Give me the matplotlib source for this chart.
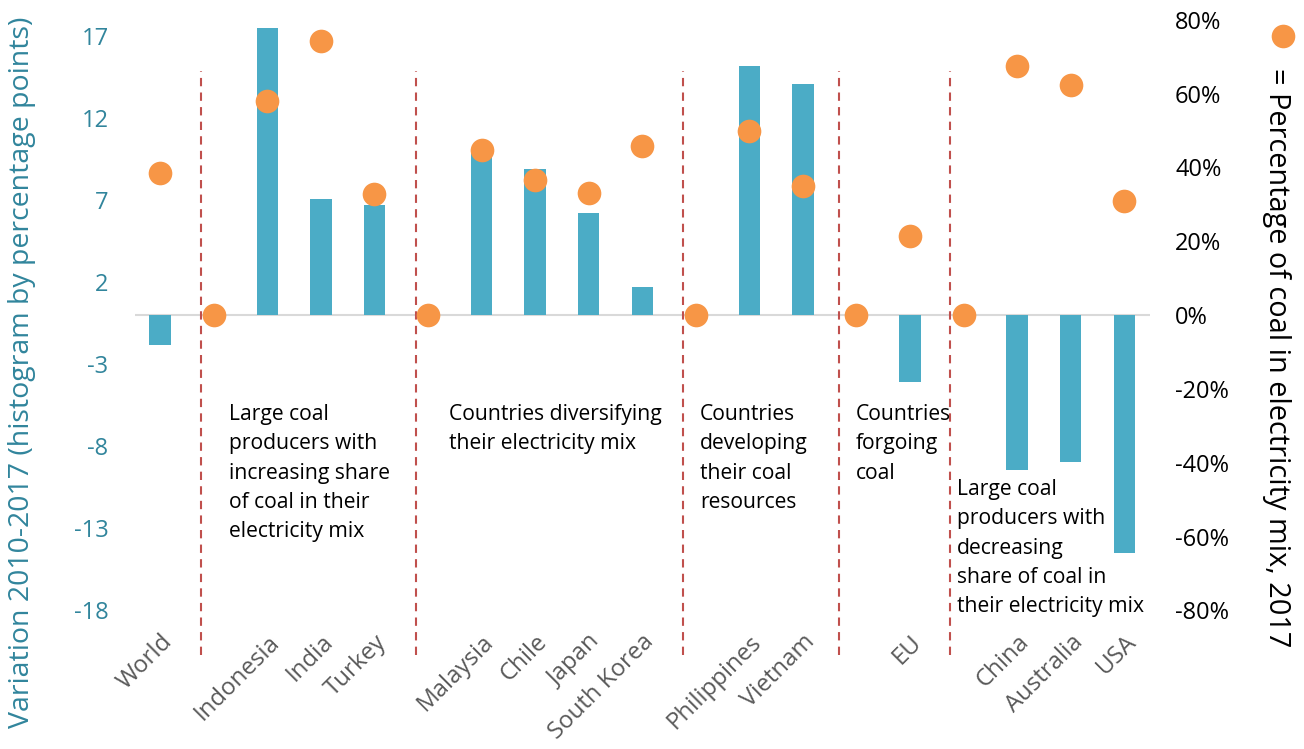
import numpy as np
import matplotlib.pyplot as plt
from matplotlib.ticker import FuncFormatter

plt.rcParams['font.family'] = ['Open Sans', 'DejaVu Sans']
plt.rcParams['axes.unicode_minus'] = False

# slots: empty strings are the gap slots at the start of each group
labels = ['World', '', 'Indonesia', 'India', 'Turkey', '', 'Malaysia', 'Chile', 'Japan',
          'South Korea', '', 'Philippines', 'Vietnam', '', 'EU', '', 'China', 'Australia', 'USA']
variation = [-1.8, 0, 17.5, 7.1, 6.7, 0, 10.0, 8.9, 6.2, 1.7, 0, 15.2, 14.1, 0, -4.1, 0,
             -9.45, -8.95, -14.5]
coal_share = [38.4, 0, 58.0, 74.3, 32.9, 0, 44.6, 36.7, 33.2, 45.7, 0, 49.8, 35.1, 0,
              21.5, 0, 67.5, 62.3, 31.0]
separators = [0.77, 4.77, 9.76, 12.67, 14.74]

group_notes = ['Large coal\nproducers with\nincreasing share\nof coal in their\nelectricity mix',
               'Countries diversifying\ntheir electricity mix',
               'Countries\ndeveloping\ntheir coal\nresources',
               'Countries\nforgoing\ncoal',
               'Large coal\nproducers with\ndecreasing\nshare of coal in\ntheir electricity mix']
note_pos = [(229, 404), (449, 404), (700, 404), (856, 404), (957, 479)]

left_ticks = [17, 12, 7, 2, -3, -8, -13, -18]
right_ticks = [80, 60, 40, 20, 0, -20, -40, -60, -80]

BAR = '#4BACC6'
DOT = '#F79646'
TEAL = '#31859C'
W, H = 1304, 749

fig = plt.figure(figsize=(W / 100, H / 100), dpi=100)
ax = fig.add_axes([135 / W, 1 - 630 / H, (1150 - 135) / W, (630 - 10) / H])
ax2 = ax.twinx()

x = np.arange(len(labels))
lo, hi = -19.2, 18.6
ax.set_ylim(lo, hi)
ax.set_xlim(-0.47, 18.48)
ax2.set_ylim(lo * 80 / 18, hi * 80 / 18)

ax.bar(x, variation, width=0.4, color=BAR, zorder=2)
ax.axhline(0, color='#D9D9D9', lw=1.5, zorder=1)
ax2.scatter(x, coal_share, s=290, color=DOT, zorder=3, linewidths=0)

for s in separators:
    ax.plot([s, s], [-20.7, 14.9], color='#C0504D', ls=(0, (4, 3)), lw=1.5,
            clip_on=False, zorder=1)

for a in (ax, ax2):
    for sp in a.spines.values():
        sp.set_visible(False)

ax.set_yticks(left_ticks)
ax.tick_params(axis='y', length=0, pad=19, labelsize=17, labelcolor=TEAL)
ax.set_xticks(x)
ax.set_xticklabels(labels, rotation=45, ha='right', rotation_mode='anchor',
                   fontsize=17.3, color='#595959')
ax.tick_params(axis='x', length=0, pad=0)

ax2.set_yticks(right_ticks)
ax2.yaxis.set_major_formatter(FuncFormatter(lambda v, p: f'{v:.0f}%'))
ax2.tick_params(axis='y', length=0, pad=18, labelsize=17, labelcolor='black')

fig.text(22 / W, 1 - 372 / H, 'Variation 2010-2017 (histogram by percentage points)',
         rotation=90, ha='center', va='center', fontsize=20.5, color=TEAL)
fig.text(1276 / W, 1 - 68 / H, '= Percentage of coal in electricity mix, 2017',
         rotation=-90, ha='center', va='top', fontsize=20.8, color='black')
fig.add_artist(plt.Line2D([1283 / W], [1 - 36 / H], marker='o', markersize=17,
                          color=DOT, markeredgewidth=0, transform=fig.transFigure))

for txt, (px, py) in zip(group_notes, note_pos):
    fig.text(px / W, 1 - py / H, txt, ha='left', va='top', fontsize=15.2,
             linespacing=1.52, color='black')

fig.savefig('out.png', dpi=100)
